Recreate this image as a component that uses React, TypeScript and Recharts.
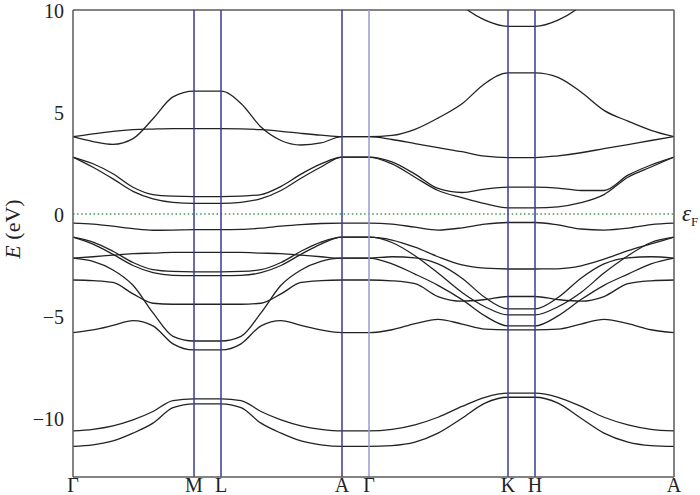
import React from 'react';
import { LineChart, Line, XAxis, YAxis, ReferenceLine } from 'recharts';

// k-path positions: Γ-M, L-A, Γ-K, H-A (M-L, A-Γ and K-H are the short flat pieces between)
const kPoints = [
  0, 20, 40, 60, 80, 100, 121,
  148, 168, 188, 208, 228, 248, 269,
  296, 319, 342, 365, 389, 412, 435,
  462, 485, 508, 531, 555, 578, 601,
];
const kTicks = [0, 121, 148, 269, 296, 435, 462, 601];
const kLabels = ['Γ', 'M', 'L', 'A', 'Γ', 'K', 'H', 'A'];
const eTicks = [-10, -5, 0, 5, 10];
const linePoints = [121, 148, 269, 435, 462];

// conduction bands (eV)
const c1 = [
  null, null, null, null, null, null, null,
  null, null, null, null, null, null, null,
  13.5, 13.2, 12.5, 11.3, 10.2, 9.5, 9.2,
  9.2, 9.5, 10.2, 11.3, 12.5, 13.2, 13.5,
];
const c2 = [
  3.79, 3.55, 3.41, 3.69, 4.67, 5.74, 6.02,
  6.02, 5.42, 4.26, 3.6, 3.38, 3.48, 3.79,
  3.79, 3.85, 4.15, 4.7, 5.4, 6.4, 6.92,
  6.92, 6.7, 5.98, 5.08, 4.55, 4.1, 3.79,
];
const c3 = [
  3.79, 3.93, 4.05, 4.13, 4.16, 4.18, 4.18,
  4.18, 4.17, 4.13, 4.05, 3.95, 3.86, 3.79,
  3.79, 3.65, 3.45, 3.25, 3.05, 2.83, 2.76,
  2.76, 2.85, 3.0, 3.2, 3.4, 3.6, 3.79,
];
const c4 = [
  2.79, 2.46, 1.97, 1.31, 0.95, 0.87, 0.85,
  0.85, 0.87, 0.95, 1.35, 1.95, 2.45, 2.79,
  2.79, 2.55, 1.95, 1.25, 1.05, 1.22, 1.31,
  1.31, 1.27, 1.15, 1.15, 1.9, 2.4, 2.79,
];
const c5 = [
  2.79, 2.29, 1.72, 1.11, 0.74, 0.57, 0.52,
  0.52, 0.57, 0.75, 1.15, 1.75, 2.3, 2.79,
  2.79, 2.45, 1.8, 1.15, 0.8, 0.5, 0.3,
  0.3, 0.35, 0.55, 0.95, 1.8, 2.3, 2.79,
];

// valence bands (eV)
const v1 = [
  -0.45, -0.5, -0.6, -0.72, -0.8, -0.79, -0.77,
  -0.77, -0.76, -0.7, -0.6, -0.52, -0.47, -0.45,
  -0.45, -0.5, -0.65, -0.79, -0.68, -0.5, -0.42,
  -0.42, -0.54, -0.74, -0.79, -0.7, -0.52, -0.45,
];
const v2 = [
  -1.14, -1.38, -1.83, -2.38, -2.73, -2.82, -2.84,
  -2.84, -2.82, -2.73, -2.38, -1.83, -1.38, -1.14,
  -1.14, -1.28, -1.63, -2.1, -2.5, -2.66, -2.7,
  -2.7, -2.69, -2.55, -2.22, -1.8, -1.47, -1.14,
];
const v3 = [
  -1.14, -1.48, -1.98, -2.53, -2.88, -3.01, -3.03,
  -3.03, -3.01, -2.88, -2.53, -1.98, -1.48, -1.14,
  -1.14, -1.4, -2.05, -2.9, -3.85, -4.55, -4.95,
  -4.95, -4.55, -3.85, -2.9, -2.05, -1.4, -1.14,
];
const v4 = [
  -2.17, -2.1, -2.02, -1.95, -1.92, -1.89, -1.89,
  -1.89, -1.89, -1.92, -1.95, -2.02, -2.1, -2.17,
  -2.17, -2.1, -2.15, -2.45, -3.15, -4.1, -4.66,
  -4.66, -4.1, -3.15, -2.45, -2.15, -2.1, -2.17,
];
const v5 = [
  -2.17, -2.33, -2.75, -3.5, -4.85, -6.0, -6.23,
  -6.23, -6.0, -4.85, -3.5, -2.75, -2.33, -2.17,
  -2.17, -2.45, -2.95, -3.5, -4.2, -5.0, -5.49,
  -5.49, -5.0, -4.2, -3.5, -2.95, -2.45, -2.17,
];
const v6 = [
  -3.24, -3.27, -3.36, -3.92, -4.38, -4.43, -4.43,
  -4.43, -4.43, -4.38, -3.92, -3.36, -3.27, -3.24,
  -3.24, -3.28, -3.42, -4.05, -4.28, -4.2, -4.05,
  -4.05, -4.2, -4.28, -4.05, -3.42, -3.28, -3.24,
];
const v7 = [
  -5.82, -5.69, -5.47, -5.23, -5.49, -6.37, -6.67,
  -6.67, -6.37, -5.49, -5.23, -5.47, -5.69, -5.82,
  -5.82, -5.68, -5.38, -5.17, -5.4, -5.65, -5.69,
  -5.69, -5.65, -5.4, -5.17, -5.38, -5.68, -5.82,
];
const v8 = [
  -10.64, -10.56, -10.39, -10.1, -9.69, -9.15, -9.07,
  -9.07, -9.15, -9.69, -10.1, -10.39, -10.56, -10.64,
  -10.64, -10.56, -10.34, -9.97, -9.44, -8.99, -8.79,
  -8.79, -8.99, -9.44, -9.97, -10.34, -10.56, -10.64,
];
const v9 = [
  -11.4, -11.32, -11.13, -10.75, -10.26, -9.5, -9.31,
  -9.31, -9.5, -10.26, -10.75, -11.13, -11.32, -11.4,
  -11.4, -11.36, -11.19, -10.75, -10.02, -9.28, -8.99,
  -8.99, -9.28, -10.02, -10.75, -11.19, -11.36, -11.4,
];

const bands = [c1, c2, c3, c4, c5, v1, v2, v3, v4, v5, v6, v7, v8, v9];

const data = kPoints.map((k, i) => {
  const row: Record<string, number | null> = { k };
  bands.forEach((b, j) => {
    row[`b${j}`] = b[i];
  });
  return row;
});

const serif = '"Liberation Serif", "DejaVu Serif", serif';
const frame = '#5a5a5a';
const yDomain: [number, number] = [-12.9, 10];

const YTitle = () => (
  <text
    x={20}
    y={229}
    transform="rotate(-90 20 229)"
    textAnchor="middle"
    fontFamily={serif}
    fontSize={22}
    fill="#222"
  >
    <tspan fontStyle="italic">E</tspan> (eV)
  </text>
);

const FermiLabel = (props: any) => {
  const vb = props.viewBox || { x: 73, y: 214, width: 601 };
  return (
    <text
      x={vb.x + vb.width + 8}
      y={vb.y + 7}
      fontFamily={serif}
      fontSize={23}
      fontStyle="italic"
      fill="#222"
    >
      ε
      <tspan fontSize={13} fontStyle="normal" dy={5}>
        F
      </tspan>
    </text>
  );
};

// y tick label, nudged 1px down so the top "10" stays inside the picture
const YTick = (props: any) => {
  const { x, y, payload } = props;
  return (
    <text
      x={x}
      y={y + 1}
      dy="0.35em"
      textAnchor="end"
      fontFamily={serif}
      fontSize={20}
      fill="#222"
    >
      {String(payload.value).replace('-', '−')}
    </text>
  );
};

const App = () => (
  <div style={{ position: 'absolute', left: 0, top: 0, background: '#fff' }}>
    <LineChart
      width={700}
      height={495}
      data={data}
      margin={{ top: 10, right: 26, bottom: 0, left: 8 }}
    >
      <XAxis
        dataKey="k"
        type="number"
        domain={[0, 601]}
        ticks={kTicks}
        interval={0}
        tickFormatter={(v: number) => kLabels[kTicks.indexOf(v)]}
        tickLine={false}
        tickSize={0}
        tickMargin={1}
        height={18}
        axisLine={{ stroke: frame, strokeWidth: 1.5 }}
        tick={{ fontFamily: serif, fontSize: 20, fill: '#222' }}
      />
      <YAxis
        yAxisId="left"
        type="number"
        domain={yDomain}
        allowDataOverflow
        ticks={eTicks}
        interval={0}
        width={65}
        tickLine={false}
        tickSize={0}
        tickMargin={9}
        axisLine={{ stroke: frame, strokeWidth: 1.5 }}
        tick={<YTick />}
        label={<YTitle />}
      />
      <YAxis
        yAxisId="leftIn"
        type="number"
        domain={yDomain}
        allowDataOverflow
        ticks={eTicks}
        interval={0}
        mirror
        tick={false}
        tickSize={5}
        axisLine={false}
        tickLine={{ stroke: frame }}
      />
      <YAxis
        yAxisId="right"
        orientation="right"
        type="number"
        domain={yDomain}
        allowDataOverflow
        ticks={eTicks}
        interval={0}
        mirror
        tick={false}
        tickSize={5}
        axisLine={{ stroke: frame, strokeWidth: 1.5 }}
        tickLine={{ stroke: frame }}
      />
      <ReferenceLine yAxisId="left" y={10} stroke={frame} strokeWidth={1.5} />
      <ReferenceLine
        yAxisId="left"
        y={0}
        stroke="#3f9a45"
        strokeWidth={1.6}
        strokeDasharray="1.5 2.6"
        label={<FermiLabel />}
      />
      {bands.map((_, j) => (
        <Line
          key={j}
          yAxisId="left"
          dataKey={`b${j}`}
          type="monotone"
          stroke="#222"
          strokeWidth={1.3}
          dot={false}
          activeDot={false}
          connectNulls={false}
          isAnimationActive={false}
        />
      ))}
      {linePoints.map((k) => (
        <ReferenceLine
          key={k}
          yAxisId="left"
          x={k}
          stroke="#3a3a9c"
          strokeWidth={1.5}
        />
      ))}
      <ReferenceLine yAxisId="left" x={296} stroke="#9a9ad2" strokeWidth={1.5} />
    </LineChart>
  </div>
);

export default App;
